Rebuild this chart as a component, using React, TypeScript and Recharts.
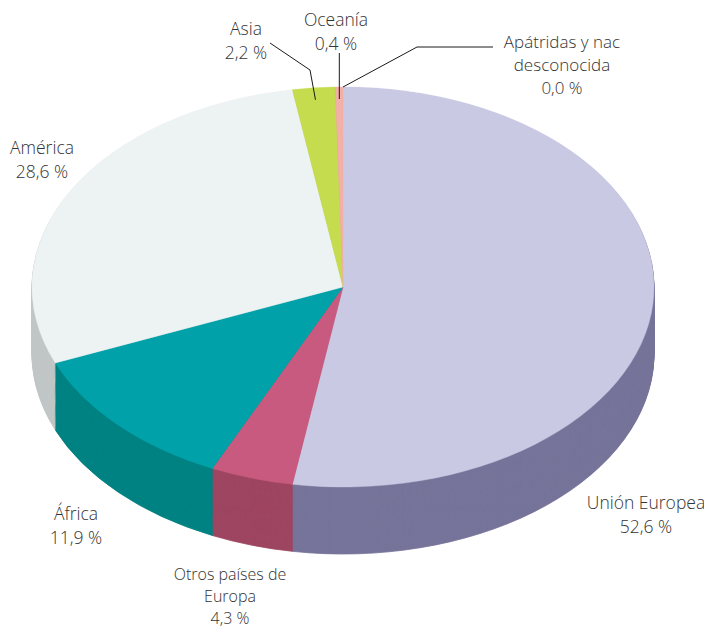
import { Cell, Pie, PieChart } from "recharts";

const categories = [
  "Unión Europea",
  "Otros países de Europa",
  "África",
  "América",
  "Asia",
  "Oceanía",
  "Apátridas y nac desconocida",
];
const shares = [52.6, 4.3, 11.9, 28.6, 2.2, 0.4, 0.0];

const TOP_COLORS = ["#c9c9e4", "#c75a7e", "#00a1a8", "#edf2f3", "#c5dc4e", "#f2b0a7", "#f2b0a7"];
const SIDE_COLORS = ["#76749a", "#9e4562", "#008283", "#c1c6c6", "#9db03e", "#c98c85", "#c98c85"];

// label text lines + where they sit on the page
const LABELS: { lines: string[]; x: number; y: number; lh: number; fs: number }[] = [
  { lines: ["Unión Europea", "52,6 %"], x: 646, y: 509, lh: 24, fs: 17.5 },
  { lines: ["Otros países de", "Europa", "4,3 %"], x: 230, y: 580, lh: 22, fs: 16 },
  { lines: ["África", "11,9 %"], x: 76, y: 520, lh: 24, fs: 17.5 },
  { lines: ["América", "28,6 %"], x: 42, y: 154, lh: 24, fs: 17.5 },
  { lines: ["Asia", "2,2 %"], x: 246, y: 35, lh: 24, fs: 17.5 },
  { lines: ["Oceanía", "0,4 %"], x: 336, y: 26, lh: 24, fs: 17.5 },
  { lines: ["Apátridas y nac", "desconocida", "0,0 %"], x: 562, y: 48, lh: 23, fs: 17 },
];

const W = 712;
const H = 629;
const CX = 343;
const CY = 287;
const RX = 311;
const RY = 200;
const DEPTH = 67;
const K = RY / RX;
const LAYERS = 70;

const data = categories.map((name, i) => ({ name, value: shares[i] }));

// point on the top face at the middle of slice i, r in fraction of radius
function anchor(i: number, r: number) {
  const total = shares.reduce((a, b) => a + b, 0);
  const before = shares.slice(0, i).reduce((a, b) => a + b, 0);
  const a = ((before + shares[i] / 2) / total) * Math.PI * 2;
  return { x: CX + Math.sin(a) * RX * r, y: CY - Math.cos(a) * RY * r };
}

export default function App() {
  const chartH = Math.ceil((CY + DEPTH + RY) / K) + 20;
  const layers = Array.from({ length: LAYERS }, (_, i) => LAYERS - i);
  const asia = anchor(4, 0.94);
  const oce = anchor(5, 0.94);
  const apa = anchor(6, 1);

  return (
    <div style={{ position: "relative", width: W, height: H, margin: "-8px -8px 0 -8px", background: "#fff", overflow: "hidden" }}>
      <div style={{ position: "absolute", left: 0, top: 0, width: W, height: chartH, transform: `scaleY(${K})`, transformOrigin: "0 0" }}>
        <PieChart width={W} height={chartH} margin={{ top: 0, right: 0, bottom: 0, left: 0 }}>
          {layers.map((l) => (
            <Pie
              key={l}
              data={data}
              dataKey="value"
              cx={CX}
              cy={CY / K + (DEPTH / K) * (l / LAYERS)}
              outerRadius={RX}
              startAngle={90}
              endAngle={-270}
              isAnimationActive={false}
            >
              {data.map((d, i) => (
                <Cell key={d.name} fill={SIDE_COLORS[i]} stroke={SIDE_COLORS[i]} strokeWidth={1} />
              ))}
            </Pie>
          ))}
          <Pie
            data={data}
            dataKey="value"
            cx={CX}
            cy={CY / K}
            outerRadius={RX}
            startAngle={90}
            endAngle={-270}
            isAnimationActive={false}
          >
            {data.map((d, i) => (
              <Cell key={d.name} fill={TOP_COLORS[i]} stroke={TOP_COLORS[i]} strokeWidth={0.5} />
            ))}
          </Pie>
        </PieChart>
      </div>
      <svg width={W} height={H} style={{ position: "absolute", left: 0, top: 0 }}>
        <g fill="none" stroke="#1a1a1a" strokeWidth={1}>
          <polyline points={`270,43 310,70 ${asia.x},${asia.y}`} />
          <polyline points={`${oce.x},53 ${oce.x},${oce.y}`} />
          <polyline points={`493,47 417,47 ${apa.x},${apa.y}`} />
        </g>
        <g fontFamily="'Open Sans', sans-serif" fontWeight={300} fill="#333" textAnchor="middle">
          {LABELS.map((lb) => (
            <text key={lb.lines[0]} x={lb.x} y={lb.y} fontSize={lb.fs}>
              {lb.lines.map((t, j) => (
                <tspan key={j} x={lb.x} y={lb.y + j * lb.lh}>
                  {t}
                </tspan>
              ))}
            </text>
          ))}
        </g>
      </svg>
    </div>
  );
}
